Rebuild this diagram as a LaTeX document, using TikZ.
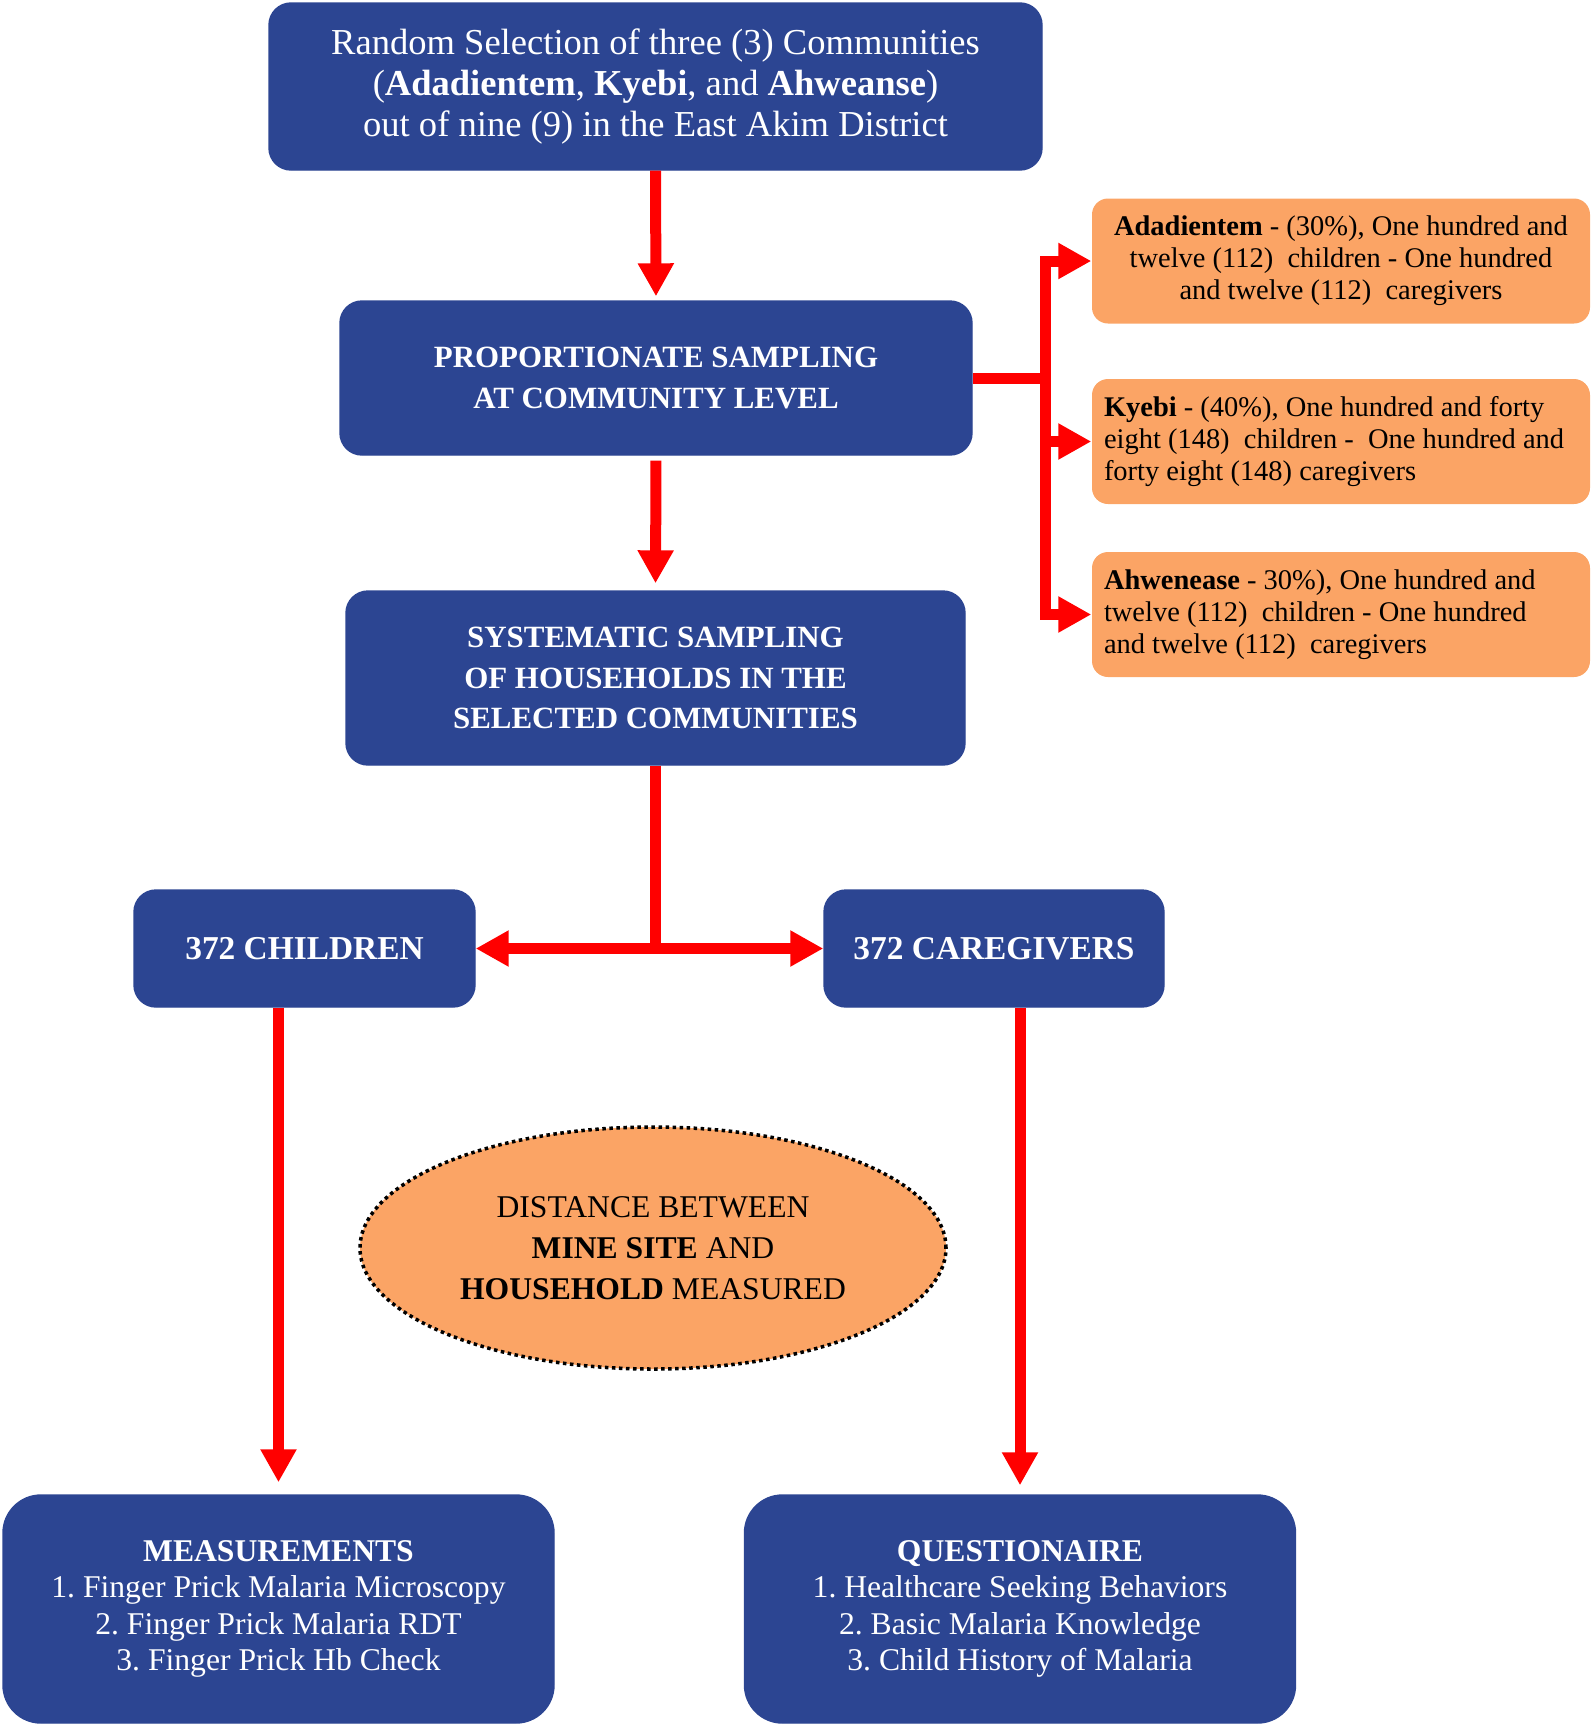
\documentclass[tikz,border=0pt]{standalone}
\usepackage{fontspec}
\setmainfont{Liberation Serif}
\usetikzlibrary{arrows.meta,shapes.geometric}
\definecolor{boxblue}{HTML}{2C4592}
\definecolor{peach}{HTML}{FBA465}
\definecolor{arrowred}{HTML}{FF0000}
\tikzset{fig/.style={line join=miter,>={Triangle[length=0.33cm,width=0.34cm]}},
  bluebox/.style={fill=boxblue,draw=boxblue,rounded corners=0.22cm,text=white,align=center,inner sep=0pt},
  headbox/.style={bluebox,font=\fontsize{8.8}{11.6}\selectfont\bfseries},
  listbox/.style={bluebox,rounded corners=0.38cm,minimum width=5.51cm,minimum height=2.28cm,font=\fontsize{9}{10.3}\selectfont},
  peachbox/.style={fill=peach,rounded corners=0.16cm,inner sep=0pt,minimum width=4.98cm,minimum height=1.25cm,font=\fontsize{8.1}{9.1}\selectfont},
  redline/.style={arrowred,line width=0.11cm},
  arr/.style={redline,->}}

\begin{document}
\begin{tikzpicture}[fig]
  \useasboundingbox(0,0)rectangle(15.92,-17.26);
  % sampling steps
  \node[bluebox,minimum width=7.73cm,minimum height=1.67cm,font=\fontsize{10.4}{11.6}\selectfont](sel)at(6.555,-0.865){Random Selection of three (3) Communities\\(\textbf{Adadientem}, \textbf{Kyebi}, and \textbf{Ahweanse})\\out of nine (9) in the East Akim District};
  \node[headbox,minimum width=6.32cm,minimum height=1.54cm](prop)at(6.56,-3.78){PROPORTIONATE SAMPLING\\AT COMMUNITY LEVEL};
  \node[headbox,minimum width=6.19cm,minimum height=1.74cm](sys)at(6.555,-6.78){SYSTEMATIC SAMPLING\\OF HOUSEHOLDS IN THE\\SELECTED COMMUNITIES};
  \node[headbox,minimum width=3.41cm,minimum height=1.17cm,font=\fontsize{9.5}{11.6}\selectfont\bfseries](chi)at(3.045,-9.485){372 CHILDREN};
  \node[headbox,minimum width=3.40cm,minimum height=1.17cm,font=\fontsize{9.5}{11.6}\selectfont\bfseries](car)at(9.94,-9.485){372 CAREGIVERS};
  \node[listbox](mea)at(2.785,-16.09){\textbf{MEASUREMENTS}\\1.~Finger Prick Malaria Microscopy\\2.~Finger Prick Malaria RDT\\3.~Finger Prick Hb Check};
  \node[listbox](que)at(10.20,-16.09){\textbf{QUESTIONAIRE}\\1.~Healthcare Seeking Behaviors\\2.~Basic Malaria Knowledge\\3.~Child History of Malaria};
  \node[ellipse,fill=peach,draw=black,densely dotted,line width=1pt,minimum width=5.86cm,minimum height=2.42cm,align=center,font=\fontsize{9}{11.6}\selectfont](dist)at(6.53,-12.48){DISTANCE BETWEEN\\\textbf{MINE SITE} AND\\\textbf{HOUSEHOLD} MEASURED};
  % community shares
  \node[peachbox,align=center](ada)at(13.41,-2.61){\textbf{Adadientem} - (30\%), One hundred and\\twelve (112)~ children - One hundred\\and twelve (112)~ caregivers};
  \node[peachbox,text width=4.74cm,align=flush left](kye)at(13.41,-4.415){\textbf{Kyebi} - (40\%), One hundred and forty\\eight (148)~ children - ~One hundred and\\forty eight (148) caregivers};
  \node[peachbox,text width=4.74cm,align=flush left](ahw)at(13.41,-6.145){\textbf{Ahwenease} - 30\%), One hundred and\\twelve (112)~ children - One hundred\\and twelve (112)~ caregivers};
  % connectors
  \draw[arr,shorten >=0.04cm](sel.south)--(prop.north);
  \draw[arr,shorten <=0.05cm,shorten >=0.07cm](prop.south)--(sys.north);
  \coordinate(bus)at(10.45,-3.78);
  \draw[redline](prop.east)--(bus);
  \foreach \n in {ada,kye,ahw}\draw[arr](bus)|-(\n.west);
  \draw[arr](sys.south)|-(chi.east);
  \draw[arr](sys.south)|-(car.west);
  \draw[arr,shorten >=0.12cm](mea.north|-chi.south)--(mea.north);
  \draw[arr,shorten >=0.09cm](que.north|-car.south)--(que.north);
\end{tikzpicture}
\end{document}
